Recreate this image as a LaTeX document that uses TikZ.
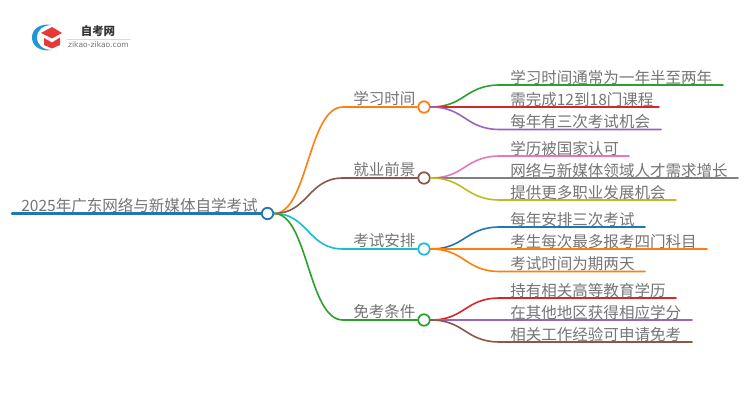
\documentclass[tikz,border=0pt]{standalone}
\usepackage{fontspec}
\setmainfont{Noto Sans CJK SC}
\newfontfamily\logolat{DejaVu Sans}
\definecolor{cblue}{HTML}{1F77B4}
\definecolor{corange}{HTML}{FF7F0E}
\definecolor{cgreen}{HTML}{2CA02C}
\definecolor{cred}{HTML}{D62728}
\definecolor{cpurple}{HTML}{9467BD}
\definecolor{cbrown}{HTML}{8C564B}
\definecolor{cpink}{HTML}{E377C2}
\definecolor{cgray}{HTML}{7F7F7F}
\definecolor{colive}{HTML}{BCBD22}
\definecolor{ccyan}{HTML}{17BECF}
\definecolor{txt}{HTML}{757575}
\definecolor{logoblue}{HTML}{1E96D8}
\definecolor{logored}{HTML}{E5393A}
\tikzset{
  x=0.75pt,y=-0.75pt,
  dot/.style={circle,draw=#1,fill=white,line width=1.3pt,minimum size=8.6pt,inner sep=0pt},
  link/.style={draw=#1,line width=1.2pt,line cap=round},
  lbl/.style={text=txt,font=\fontsize{11.65pt}{13pt}\selectfont,anchor=base west,inner sep=0pt},
}
\begin{document}
\begin{tikzpicture}
\useasboundingbox (0,0) rectangle (750,410);
\fill[white] (0,0) rectangle (750,410);
% logo
\fill[logoblue] (52,25) .. controls (40,23) and (32,29) .. (32,37.5) .. controls (32,46) and (40,52) .. (52,50)
  .. controls (43,50) and (37,45) .. (37,37.5) .. controls (37,30) and (43,25) .. (52,25) -- cycle;
\fill[logored] (41,33) -- (52,27) -- (62,33) -- (52,38.5) -- cycle;
\fill[logored] (44,38) -- (52,42.5) -- (60,37.5) -- (60,45) -- (52,48.5) -- (44,45) -- cycle;
\node[inner sep=0pt,text=black!80,font=\fontsize{8.6pt}{10pt}\selectfont\bfseries] (logotitle) at (98,31) {自考网};
\node[inner sep=0pt,text=black!55,font=\logolat\fontsize{5.7pt}{6pt}\selectfont] (logourl) at (98.5,45) {zikao-zikao.com};
\coordinate (ll) at (67,39); \coordinate (lr) at (131,39);
\draw[black!15,line width=0.5pt] (ll) -- (lr);
% root
\coordinate (r0) at (12,213.5);
\node[dot=cblue] (root) at (267.5,213.5) {};
\draw[link=cblue,line width=1.6pt] (r0) -- (root.west);
\node[lbl] (roott) at (21,211) {2025年广东网络与新媒体自学考试};
% branches
\node[dot=corange] (b1) at (424,107) {};
\node[dot=cbrown] (b2) at (424,178) {};
\node[dot=ccyan] (b3) at (424,249) {};
\node[dot=cgreen] (b4) at (424,320) {};
\node[lbl] (b1t) at (353,104.5) {学习时间};
\node[lbl] (b2t) at (353,175.5) {就业前景};
\node[lbl] (b3t) at (353,246.5) {考试安排};
\node[lbl] (b4t) at (353,317.5) {免考条件};
\draw[link=corange] (root.east) .. controls (308,213.5) and (308,107) .. (343,107) -- (b1.west);
\draw[link=cbrown] (root.east) .. controls (308,213.5) and (308,178) .. (343,178) -- (b2.west);
\draw[link=ccyan] (root.east) .. controls (308,213.5) and (308,249) .. (343,249) -- (b3.west);
\draw[link=cgreen] (root.east) .. controls (308,213.5) and (308,320) .. (343,320) -- (b4.west);
% leaves
\foreach \n/\b/\by/\y/\e/\c/\t in {
 a1/b1/107/85/723/cgreen/学习时间通常为一年半至两年,
 a2/b1/107/107/659/cred/需完成12到18门课程,
 a3/b1/107/129.5/661/cpurple/每年有三次考试机会,
 c1/b2/178/156/629/cpink/学历被国家认可,
 c2/b2/178/178/738/cgray/网络与新媒体领域人才需求增长,
 c3/b2/178/200/676/colive/提供更多职业发展机会,
 d1/b3/249/227/645/cblue/每年安排三次考试,
 d2/b3/249/249/707/corange/考生每次最多报考四门科目,
 d3/b3/249/271.5/645/corange/考试时间为期两天,
 e1/b4/320/298/676/cred/持有相关高等教育学历,
 e2/b4/320/320/692/cpurple/在其他地区获得相应学分,
 e3/b4/320/342/692/cbrown/相关工作经验可申请免考}{
  \coordinate (\n s) at (500,\y);
  \coordinate (\n e) at (\e,\y);
  \draw[link=\c] (\b.east) .. controls (465,\by) and (465,\y) .. (\n s) -- (\n e);
  \node[lbl] (\n t) at (510,\y-1.8) {\t};
}
\end{tikzpicture}
\end{document}
